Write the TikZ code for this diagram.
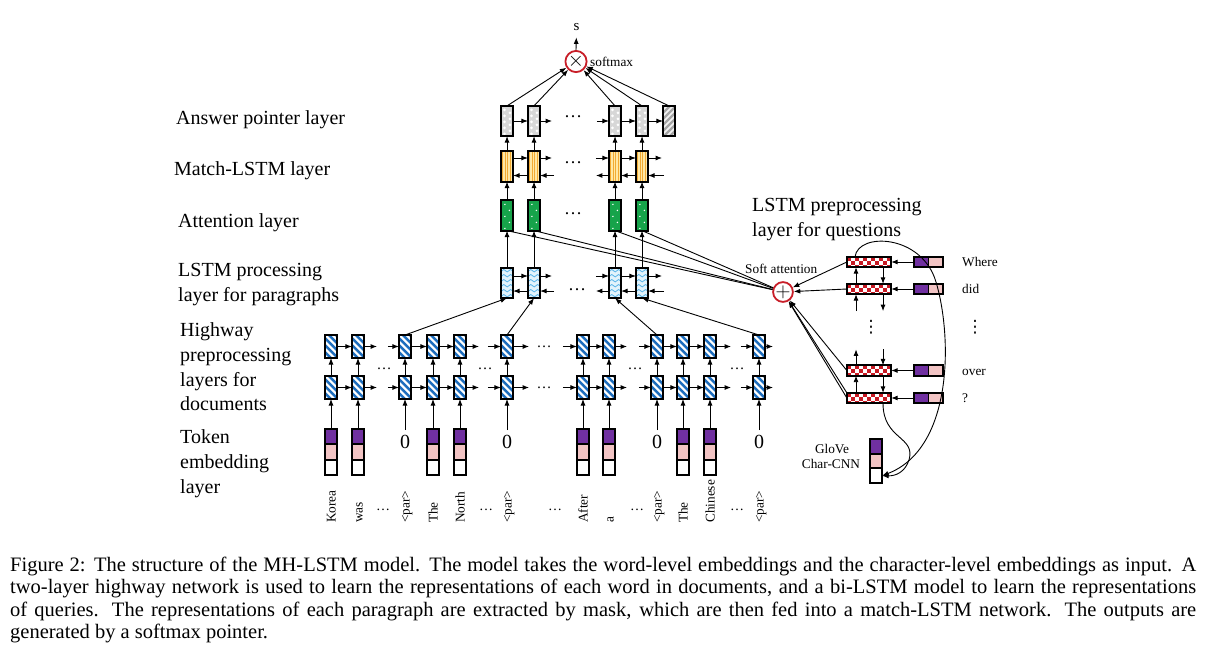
\documentclass[tikz,border=0pt]{standalone}
\usepackage{fontspec}
\setmainfont{Liberation Serif}
\newfontfamily\symfont{DejaVu Sans}
\usetikzlibrary{arrows.meta}
\definecolor{epurple}{RGB}{112,48,160}
\definecolor{epink}{RGB}{242,196,196}
\definecolor{attgreen}{RGB}{22,163,74}
\definecolor{matyellow}{RGB}{255,232,165}
\definecolor{matorange}{RGB}{242,170,50}
\definecolor{lpblue}{RGB}{226,243,252}
\definecolor{lpline}{RGB}{90,180,232}
\definecolor{hwblue}{RGB}{30,110,190}
\definecolor{qred}{RGB}{200,25,35}
\definecolor{cred}{RGB}{200,30,40}
\definecolor{ansgray}{RGB}{215,215,215}
\definecolor{hatchgray}{RGB}{165,165,165}
\newcommand\figbig{\fontsize{20}{25}\selectfont}
\newcommand\figsmall{\fontsize{13.3}{16}\selectfont}
\newcommand\figcap{\fontsize{20.5}{22.3}\selectfont}
\begin{document}
\begin{tikzpicture}[x=1pt,y=-1pt,
  >={Latex[length=6.5pt,width=5pt]},
  arr/.style={->, line width=0.9pt},
  ln/.style={line width=0.9pt},
  lab/.style={font=\figbig, inner sep=0pt, anchor=base west},
  sml/.style={font=\figsmall, inner sep=0pt},
  dotsn/.style={inner sep=0pt},
  bx/.style={draw=black, line width=1.9pt, inner sep=0pt, outer sep=0pt,
    minimum width=12.2pt, minimum height=30.2pt},
  ans/.style={bx, fill=ansgray, path picture={
    \foreach \yy in {4,10,16,22,28} {
      \fill[white] ([shift={(3.5,\yy)}]path picture bounding box.north west) circle (1.5);
      \fill[white] ([shift={(9,\yy+3)}]path picture bounding box.north west) circle (1.5);}}},
  anshatch/.style={bx, fill=white!90!gray, path picture={
    \foreach \k in {-35,-29,...,17}
      \draw[hatchgray, line width=2.2pt] ([shift={(\k,0)}]path picture bounding box.south west) -- ++(34,-34);}},
  mat/.style={bx, fill=matyellow, path picture={
    \foreach \xx in {1.8,4.3,6.8,9.3,11.8}
      \draw[matorange, line width=1.1pt] ([shift={(\xx,-2)}]path picture bounding box.north west) -- ++(0,40);}},
  att/.style={bx, fill=attgreen, path picture={
    \foreach \yy/\xx in {4/4,10/8.5,16/4,22/8.5,28/4}
      \fill[white] ([shift={(\xx,\yy)}]path picture bounding box.north west) circle (0.8);}},
  lp/.style={bx, fill=lpblue, path picture={
    \foreach \yy in {4,9,...,34}
      \draw[lpline, line width=0.8pt] ([shift={(-0.5,\yy)}]path picture bounding box.north west)
        -- ++(3.4,-2.4) -- ++(3.4,2.4) -- ++(3.4,-2.4) -- ++(3.4,2.4);}},
  hw/.style={bx, minimum height=23pt, fill=white, path picture={
    \foreach \k in {-24,-17,-10,-3,4,11}
      \draw[hwblue, line width=2.4pt] ([shift={(\k,0)}]path picture bounding box.north west) -- ++(24,24);}},
  emb/.style={draw=black, line width=1.9pt, inner sep=0pt, outer sep=0pt,
    minimum width=12.2pt, minimum height=15.3pt},
  qemb/.style={draw=black, line width=1.9pt, inner sep=0pt, outer sep=0pt,
    minimum width=14.5pt, minimum height=10.3pt},
  qbox/.style={draw=black, line width=1.9pt, inner sep=0pt, outer sep=0pt,
    minimum width=44.3pt, minimum height=10.3pt, fill=white, path picture={
    \foreach \i in {0,2,...,10} {
      \fill[qred] ([shift={(\i*4,0)}]path picture bounding box.north west) rectangle ++(4,4);
      \fill[qred] ([shift={(\i*4+4,4)}]path picture bounding box.north west) rectangle ++(4,4);
      \fill[qred] ([shift={(\i*4,8)}]path picture bounding box.north west) rectangle ++(4,4);}}},
  circ/.style={circle, draw=cred, line width=1.8pt, minimum size=18.5pt, inner sep=0pt, fill=white}
]
\fill[white] (0,0) rectangle (1206,656);
\useasboundingbox (0,0) rectangle (1206,656);

% ---------------- layer labels ----------------
\node[lab] (l1) at (176,124) {Answer pointer layer};
\node[lab] (l2) at (174,175) {Match-LSTM layer};
\node[lab] (l3) at (178,227) {Attention layer};
\node[lab] (l4a) at (178,276) {LSTM processing};
\node[lab] (l4b) at (178,301) {layer for paragraphs};
\node[lab] (l5a) at (180,336) {Highway};
\node[lab] (l5b) at (180,361) {preprocessing};
\node[lab] (l5c) at (180,386) {layers for};
\node[lab] (l5d) at (180,410) {documents};
\node[lab] (l6a) at (180,443) {Token};
\node[lab] (l6b) at (180,468) {embedding};
\node[lab] (l6c) at (180,493) {layer};
\node[lab] (l7a) at (752,211) {LSTM preprocessing};
\node[lab] (l7b) at (752,236) {layer for questions};

% ---------------- upper stacks ----------------
\foreach \n/\x in {1/507,2/534,4/615,5/642} {
  \node[ans] (a\n) at (\x,121) {};
  \node[mat] (m\n) at (\x,166.5) {};
  \node[att] (t\n) at (\x,215.5) {};
  \node[lp]  (p\n) at (\x,283) {};
}
\node[anshatch] (a6) at (669,121) {};
\foreach \n in {1,2,4,5} {
  \draw[arr] (m\n.north) -- (a\n.south);
  \draw[arr] (t\n.north) -- (m\n.south);
  \draw[arr] (p\n.north) -- (t\n.south);
}
% dots in layers
\node[dotsn, font=\fontsize{18}{20}\selectfont] (d1) at (573,117) {…};
\node[dotsn, font=\fontsize{18}{20}\selectfont] (d2) at (573,163) {…};
\node[dotsn, font=\fontsize{18}{20}\selectfont] (d3) at (573,214) {…};
\node[dotsn, font=\fontsize{18}{20}\selectfont] (d4) at (577,290) {…};

% answer pointer horizontal arrows
\draw[arr] (a1.east) -- (a2.west);
\draw[arr] (a2.east) -- ++(12,0) coordinate (a2r);
\draw[arr] ([shift={(-12,0)}]a4.west) coordinate (a4l) -- (a4.west);
\draw[arr] (a4.east) -- (a5.west);
\draw[arr] (a5.east) -- (a6.west);

% match-LSTM and LSTM processing bidirectional arrows
\foreach \L/\u/\d in {m/-8.5/9, p/-7/8} {
  \draw[arr] ([shift={(0,\u)}]\L1.east) -- ([shift={(0,\u)}]\L2.west);
  \draw[arr] ([shift={(0,\u)}]\L2.east) -- ++(12,0) coordinate (\L 2ru);
  \draw[arr] ([shift={(-13,\u)}]\L4.west) coordinate (\L 4lu) -- ([shift={(0,\u)}]\L4.west);
  \draw[arr] ([shift={(0,\u)}]\L4.east) -- ([shift={(0,\u)}]\L5.west);
  \draw[arr] ([shift={(0,\u)}]\L5.east) -- ++(14,0) coordinate (\L 5ru);
  \draw[arr] ([shift={(0,\d)}]\L2.west) -- ([shift={(0,\d)}]\L1.east);
  \draw[arr] ([shift={(14,\d)}]\L2.east) coordinate (\L 2rd) -- ([shift={(0,\d)}]\L2.east);
  \draw[arr] ([shift={(0,\d)}]\L4.west) -- ++(-13,0) coordinate (\L 4ld);
  \draw[arr] ([shift={(0,\d)}]\L5.west) -- ([shift={(0,\d)}]\L4.east);
  \draw[arr] ([shift={(16,\d)}]\L5.east) coordinate (\L 5rd) -- ([shift={(0,\d)}]\L5.east);
}

% softmax
\node[circ] (sm) at (576,61.5) {\fontsize{20}{20}\selectfont$\times$};
\node[sml, anchor=base west] (smlab) at (590,66) {softmax};
\node[inner sep=0pt, anchor=base, font=\fontsize{15}{16}\selectfont] (s) at (576.5,30) {s};
\draw[arr, shorten >=7pt] (sm.north) -- (s.south);
\foreach \n in {1,2,4,5,6} \draw[arr] (a\n.north) -- (sm);

% ---------------- highway layers ----------------
\foreach \i/\x in {1/331,2/358,3/405,4/433,5/460,6/507,7/583,8/609,9/657,10/683,11/710,12/759} {
  \node[hw] (hu\i) at (\x,346.5) {};
  \node[hw] (hl\i) at (\x,387.5) {};
  \draw[arr] (hl\i.north) -- (hu\i.south);
}
\foreach \rw in {u,l} {
  \draw[arr] (h\rw1.east) -- (h\rw2.west);
  \draw[arr] (h\rw2.east) -- ++(13,0) coordinate (h\rw 2r);
  \draw[arr] ([shift={(-11,0)}]h\rw3.west) coordinate (h\rw 3l) -- (h\rw3.west);
  \draw[arr] (h\rw3.east) -- (h\rw4.west);
  \draw[arr] (h\rw4.east) -- (h\rw5.west);
  \draw[arr] (h\rw5.east) -- ++(13,0) coordinate (h\rw 5r);
  \draw[arr] ([shift={(-13,0)}]h\rw6.west) coordinate (h\rw 6l) -- (h\rw6.west);
  \draw[arr] (h\rw6.east) -- ++(16,0) coordinate (h\rw 6r);
  \draw[arr] ([shift={(-14,0)}]h\rw7.west) coordinate (h\rw 7l) -- (h\rw7.west);
  \draw[arr] (h\rw7.east) -- (h\rw8.west);
  \draw[arr] (h\rw8.east) -- ++(12,0) coordinate (h\rw 8r);
  \draw[arr] ([shift={(-12,0)}]h\rw9.west) coordinate (h\rw 9l) -- (h\rw9.west);
  \draw[arr] (h\rw9.east) -- (h\rw10.west);
  \draw[arr] (h\rw10.east) -- (h\rw11.west);
  \draw[arr] (h\rw11.east) -- ++(15,0) coordinate (h\rw 11r);
  \draw[arr] ([shift={(-12,0)}]h\rw12.west) coordinate (h\rw 12l) -- (h\rw12.west);
  \draw[arr] (h\rw12.east) -- ++(8,0) coordinate (h\rw 12r);
}
\foreach \x/\nm in {384/hd1,485/hd2,635/hd3,737/hd4}
  \node[dotsn, font=\fontsize{15}{16}\selectfont] (\nm) at (\x,369) {…};
\node[dotsn, font=\fontsize{15}{16}\selectfont] (hd5) at (544,347) {…};
\node[dotsn, font=\fontsize{15}{16}\selectfont] (hd6) at (544,388) {…};

% highway to LSTM processing
\draw[arr] (hu3.north) -- (p1.south);
\draw[arr] (hu6.north) -- (p2.south);
\draw[arr] (hu9.north) -- (p4.south);
\draw[arr] (hu12.north) -- (p5.south);

% ---------------- token embeddings ----------------
\foreach \i/\x in {1/331,2/358,4/433,5/460,7/583,8/609,10/683,11/710} {
  \node[emb, fill=epurple] (ea\i) at (\x,436.65) {};
  \node[emb, fill=epink]   (eb\i) at (\x,451.95) {};
  \node[emb, fill=white]   (ec\i) at (\x,467.25) {};
  \draw[arr] (ea\i.north) -- (hl\i.south);
}
\foreach \i/\x in {3/405,6/507,9/657,12/759} {
  \node[inner xsep=0pt, inner ysep=5pt, font=\figbig] (z\i) at (\x,442) {0};
  \draw[arr] (z\i.north) -- (hl\i.south);
}
% words
\foreach \i/\x/\w in {1/331/Korea,2/358/was,3/405/<par>,4/433/The,5/460/North,6/507/<par>,7/583/After,8/609/a,9/657/<par>,10/683/The,11/710/Chinese,12/759/<par>}
  \node[sml, rotate=90, anchor=base west] (w\i) at (\x+4.5,523) {\w};
\foreach \x/\nm in {383/wd1,486/wd2,555/wd3,637/wd4,737/wd5}
  \node[dotsn, font=\fontsize{14}{16}\selectfont] (\nm) at (\x,510) {…};

% ---------------- question side ----------------
\node[circ] (sa) at (783,292) {\fontsize{20}{20}\selectfont$+$};
\node[sml, anchor=base west] (salab) at (745,273) {Soft attention};
\foreach \r/\y/\w in {1/262/Where,2/289/did,3/370.5/over,4/398/?} {
  \node[qbox] (q\r) at (869,\y) {};
  \node[qemb, fill=epurple] (qp\r) at (921.25,\y) {};
  \node[qemb, fill=epink] (qk\r) at (935.75,\y) {};
  \node[sml, anchor=base west] (qw\r) at (962,\y+4.5) {\w};
  \draw[arr] (qp\r.west) -- (q\r.east);
}
% vertical arrows between question rows
\draw[arr] ([shift={(-13,0)}]q2.north) -- ([shift={(-13,0)}]q1.south);
\draw[arr] ([shift={(14,0)}]q1.south) -- ([shift={(14,0)}]q2.north);
\draw[arr] ([shift={(-13,17)}]q2.south) coordinate (q2bu) -- ([shift={(-13,0)}]q2.south);
\draw[arr] ([shift={(14,0)}]q2.south) -- ++(0,17) coordinate (q2bd);
\draw[arr] ([shift={(-13,0)}]q3.north) -- ++(0,-16) coordinate (q3tu);
\draw[arr] ([shift={(14,-16)}]q3.north) coordinate (q3td) -- ([shift={(14,0)}]q3.north);
\draw[arr] ([shift={(-13,0)}]q4.north) -- ([shift={(-13,0)}]q3.south);
\draw[arr] ([shift={(14,0)}]q3.south) -- ([shift={(14,0)}]q4.north);
\node[inner sep=0pt, font=\symfont\fontsize{17}{20}\selectfont] (vd1) at (871,327) {⋮};
\node[inner sep=0pt, font=\symfont\fontsize{17}{20}\selectfont] (vd2) at (975,327) {⋮};

% question to soft attention
\draw[arr] (q1.west) -- (sa);
\draw[arr] (q2.west) -- (sa);
\draw[arr] (q3.west) -- (sa);
\draw[arr] (q4.north west) -- (sa);
\draw[arr] (q4.west) -- (sa);
% soft attention to attention layer
\foreach \n in {1,2,4,5} \draw[ln] (sa) -- (t\n.south);

% GloVe / Char-CNN
\node[emb, fill=epurple, minimum height=14.7pt] (g1) at (876,446.35) {};
\node[emb, fill=epink, minimum height=14.7pt] (g2) at (876,461.05) {};
\node[emb, fill=white, minimum height=14.7pt] (g3) at (876,475.75) {};
\node[sml, anchor=base] (glab1) at (832,453) {GloVe};
\node[sml, anchor=base] (glab2) at (831,468) {Char-CNN};
\draw[arr] ([shift={(14,0)}]q4.south) .. controls (883,440) and (916,436) .. (909,460)
   .. controls (905,472) and (896,476) .. (g3.east);
\draw[arr] ([shift={(-14,0)}]q1.north) .. controls (858,232) and (922,234) .. (936,282)
   .. controls (952,335) and (954,448) .. (g3.east);

% ---------------- caption ----------------
\node[anchor=north west, inner sep=0pt, text width=1186pt, align=justify, font=\figcap] (cap) at (10,557)
{Figure 2: The structure of the MH-LSTM model. The model takes the word-level embeddings and the character-level embeddings as input. A\linebreak
two-layer highway network is used to learn the representations of each word in documents, and a bi-LSTM model to learn the representations\linebreak
of queries. The representations of each paragraph are extracted by mask, which are then fed into a match-LSTM network. The outputs are\linebreak
generated by a softmax pointer.};
\end{tikzpicture}
\end{document}
